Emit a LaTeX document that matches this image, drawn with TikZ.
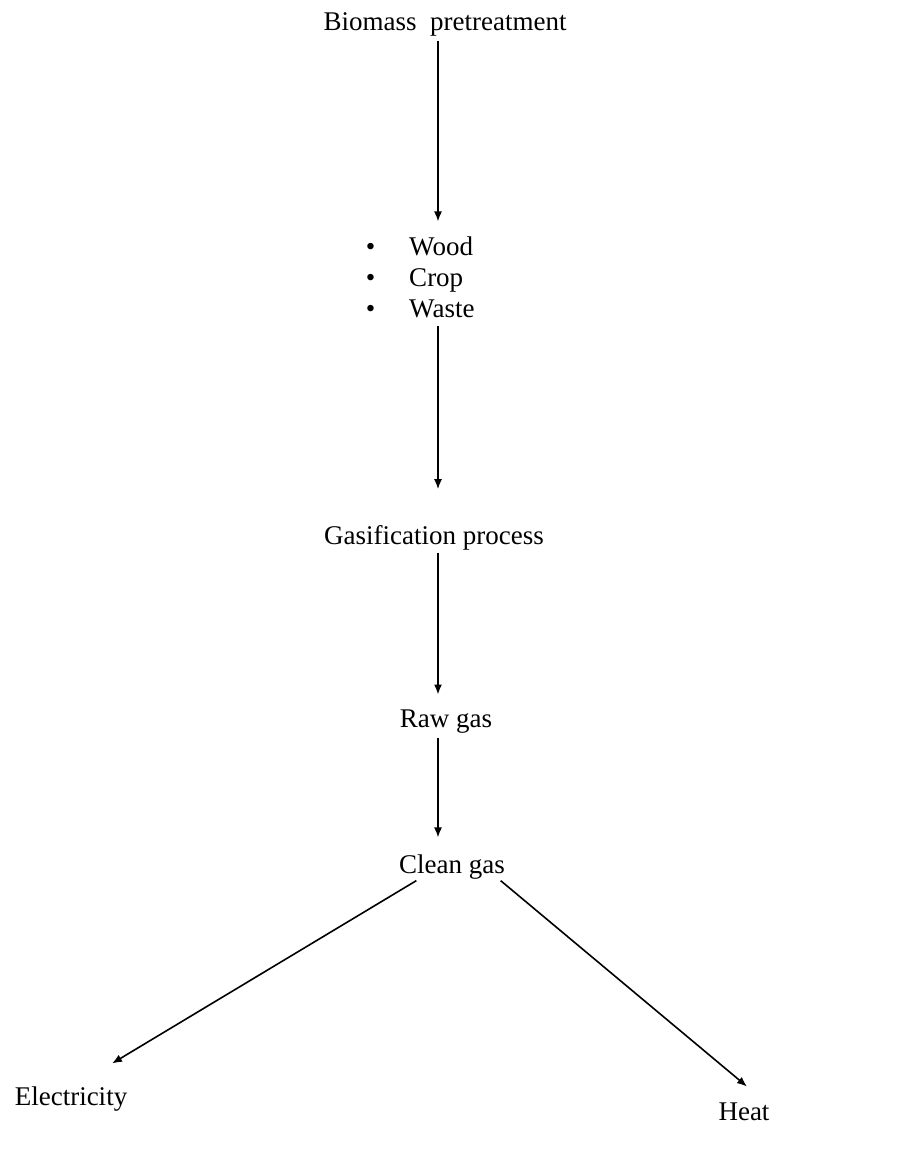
\documentclass[tikz,border=0pt]{standalone}
\usepackage{fontspec}
\setmainfont{Liberation Serif}
\usepackage{tikz}
\usetikzlibrary{arrows.meta}
\usetikzlibrary{positioning}
\tikzset{
    mynode/.style = {anchor=base, inner sep=0pt, font=\fontsize{27}{31}\selectfont},
    myitem/.style = {anchor=base west, inner sep=0pt, font=\fontsize{27}{31}\selectfont},
}

\begin{document}
\begin{tikzpicture}[
	x=1pt, y=-1pt,
	line width=1.6pt
]
\tikzset{
    edgea/.style = {-{Latex[length=10pt,width=8pt]}, black},
}
\useasboundingbox (0,0) rectangle (912,1151);
\coordinate (axis) at (438,0);
%
\node[mynode] at (445,30) (bio) {Biomass\ \ pretreatment};
\node[myitem] at (365,255) (wood) {\textbullet\hspace{34pt}Wood};
\node[myitem] at (365,286) (crop) {\textbullet\hspace{34pt}Crop};
\node[myitem] at (365,317) (waste) {\textbullet\hspace{34pt}Waste};
\node[mynode] at (434,544) (gas) {Gasification process};
\node[mynode] at (446,727) (raw) {Raw gas};
\node[mynode] at (452,873) (clean) {Clean gas};
\node[mynode] at (71,1105) (elec) {Electricity};
\node[mynode] at (744,1120) (heat) {Heat};
%
\draw[edgea, shorten <=4pt, shorten >=14pt] (bio.south -| axis) -- (wood.north -| axis);
\draw[edgea, shorten <=8pt, shorten >=35pt] (waste.south -| axis) -- (gas.north -| axis);
\draw[edgea, shorten <=2pt, shorten >=14pt] (gas.south -| axis) -- (raw.north -| axis);
\draw[edgea, shorten <=4pt, shorten >=16pt] (raw.south -| axis) -- (clean.north -| axis);
%
\draw[edgea] ([xshift=18pt,yshift=-1pt]clean.south west) -- ([xshift=-16pt,yshift=22pt]elec.north east);
\draw[edgea] ([xshift=-5pt,yshift=-1pt]clean.south east) -- ([xshift=3pt,yshift=15pt]heat.north);
\end{tikzpicture}
\end{document}
